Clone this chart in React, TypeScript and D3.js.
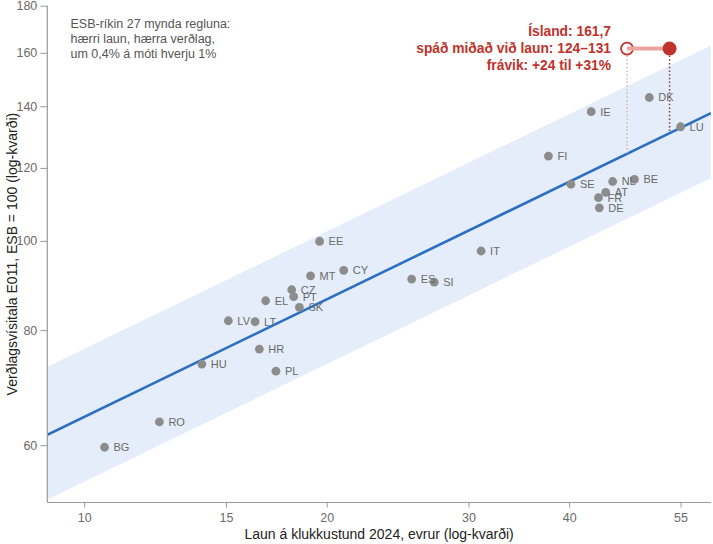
import React, { useEffect, useRef } from "react";
import * as d3 from "d3";

// EU-27: hourly wages 2024 (EUR) and price level index E011 (EU = 100)
const countries = [
  "BG", "RO", "HU", "PL", "HR", "LV", "LT", "EL", "CZ", "PT", "SK", "MT",
  "EE", "CY", "ES", "SI", "IT", "FI", "SE", "IE", "FR", "DE", "AT", "NL",
  "BE", "DK", "LU",
];
const wages = [
  10.6, 12.4, 14.0, 17.3, 16.5, 15.1, 16.3, 16.8, 18.1, 18.2, 18.5, 19.1,
  19.6, 21.0, 25.5, 27.2, 31.1, 37.7, 40.2, 42.6, 43.5, 43.6, 44.4, 45.3,
  48.2, 50.3, 55.0,
];
const prices = [
  59.7, 63.6, 73.5, 72.2, 76.3, 81.9, 81.7, 86.1, 88.5, 87.0, 84.7, 91.6,
  99.9, 92.9, 90.9, 90.2, 97.5, 123.6, 115.2, 138.1, 111.4, 108.6, 112.9,
  116.0, 116.6, 143.1, 133.0,
];

// regression line and band, read at the edges of the plot
const fitWages = [9, 60];
const fitPrices = [61.6, 137.6];
const bandUpper = [73.0, 163.0];
const bandLower = [52.4, 117.0];

// Iceland
const icelandPrice = 161.7;
const icelandWages = [47.2, 53.3];
const icelandPredicted = [124, 131];
const icelandLines = [
  "Ísland: 161,7",
  "spáð miðað við laun: 124–131",
  "frávik: +24 til +31%",
];

const noteLines = [
  "ESB-ríkin 27 mynda regluna:",
  "hærri laun, hærra verðlag,",
  "um 0,4% á móti hverju 1%",
];

const xTicks = [10, 15, 20, 30, 40, 55];
const yTicks = [60, 80, 100, 120, 140, 160, 180];

const FONT = "'Liberation Sans', Arial, Helvetica, sans-serif";
const RED = "#c0322b";

const App: React.FC = () => {
  const svgRef = useRef<SVGSVGElement | null>(null);

  useEffect(() => {
    if (!svgRef.current) return;
    const svg = d3.select(svgRef.current);
    svg.selectAll("*").remove();

    const width = 713;
    const height = 544;
    const left = 47.3;
    const right = 711;
    const top = 5.7;
    const bottom = 502.5;

    const x = d3.scaleLog().domain([9, 60]).range([left, right]);
    const y = d3.scaleLog().domain([52, 180]).range([bottom, top]);

    svg
      .attr("width", width)
      .attr("height", height)
      .style("font-family", FONT);

    // clip band to plot area (the lower edge goes below the axis)
    svg
      .append("clipPath")
      .attr("id", "plotclip")
      .append("rect")
      .attr("x", left)
      .attr("y", top)
      .attr("width", right - left)
      .attr("height", bottom - top);

    const plot = svg.append("g").attr("clip-path", "url(#plotclip)");

    // band
    const bandPts = fitWages.map((w, i) => ({ w, lo: bandLower[i], hi: bandUpper[i] }));
    const area = d3
      .area<{ w: number; lo: number; hi: number }>()
      .x((d) => x(d.w))
      .y0((d) => y(d.lo))
      .y1((d) => y(d.hi));
    plot
      .append("path")
      .datum(bandPts)
      .attr("d", area)
      .attr("fill", "#e4edf9");

    // regression line
    const line = d3
      .line<number>()
      .x((w) => x(w))
      .y((_, i) => y(fitPrices[i]));
    plot
      .append("path")
      .datum(fitWages)
      .attr("d", line)
      .attr("fill", "none")
      .attr("stroke", "#2a6fc4")
      .attr("stroke-width", 2.6);

    // axes
    const axisColor = "#9a9a9a";
    const tickColor = "#6a6a6a";

    const xAxis = svg
      .append("g")
      .attr("transform", `translate(0,${bottom})`)
      .call(
        d3
          .axisBottom(x)
          .tickValues(xTicks)
          .tickFormat((d) => String(d))
          .tickSizeInner(5)
          .tickSizeOuter(0)
          .tickPadding(6)
      );
    const yAxis = svg
      .append("g")
      .attr("transform", `translate(${left},0)`)
      .call(
        d3
          .axisLeft(y)
          .tickValues(yTicks)
          .tickFormat((d) => String(d))
          .tickSizeInner(7)
          .tickSizeOuter(0)
          .tickPadding(3)
      );
    [xAxis, yAxis].forEach((g) => {
      g.select(".domain").attr("stroke", axisColor).attr("stroke-width", 1.2);
      g.selectAll(".tick line").attr("stroke", axisColor);
      g.selectAll(".tick text")
        .attr("fill", tickColor)
        .style("font-size", "12.5px")
        .style("font-family", FONT);
    });
    xAxis.select(".domain").attr("d", `M${left},0H${right}`);
    yAxis.select(".domain").attr("d", `M0,${bottom}V${top}`);

    // axis titles
    svg
      .append("text")
      .attr("x", (left + right) / 2)
      .attr("y", 539)
      .attr("text-anchor", "middle")
      .attr("fill", "#222")
      .style("font-size", "14px")
      .text("Laun á klukkustund 2024, evrur (log-kvarði)");
    svg
      .append("text")
      .attr("transform", `translate(17,${(top + bottom) / 2}) rotate(-90)`)
      .attr("text-anchor", "middle")
      .attr("fill", "#222")
      .style("font-size", "14px")
      .text("Verðlagsvísitala E011, ESB = 100 (log-kvarði)");

    // countries
    const pts = countries.map((c, i) => ({ c, w: wages[i], p: prices[i] }));
    const dots = svg.append("g");
    dots
      .selectAll("circle")
      .data(pts)
      .join("circle")
      .attr("cx", (d) => x(d.w))
      .attr("cy", (d) => y(d.p))
      .attr("r", 4.4)
      .attr("fill", "#8c8c8c");
    dots
      .selectAll("text")
      .data(pts)
      .join("text")
      .attr("x", (d) => x(d.w) + 9)
      .attr("y", (d) => y(d.p) + 4)
      .attr("fill", "#6a6a6a")
      .style("font-size", "11px")
      .text((d) => d.c);

    // Iceland: dotted drops to the fitted line
    const ice = svg.append("g");
    ice
      .append("line")
      .attr("x1", x(icelandWages[0]))
      .attr("x2", x(icelandWages[0]))
      .attr("y1", y(icelandPrice) + 7)
      .attr("y2", y(icelandPredicted[0]))
      .attr("stroke", "#d6b4b4")
      .attr("stroke-width", 1.5)
      .attr("stroke-dasharray", "1.5,2.2");
    ice
      .append("line")
      .attr("x1", x(icelandWages[1]))
      .attr("x2", x(icelandWages[1]))
      .attr("y1", y(icelandPrice) + 7)
      .attr("y2", y(icelandPredicted[1]))
      .attr("stroke", "#8e3a36")
      .attr("stroke-width", 1.5)
      .attr("stroke-dasharray", "1.5,2.2");

    ice
      .append("circle")
      .attr("cx", x(icelandWages[0]))
      .attr("cy", y(icelandPrice))
      .attr("r", 6)
      .attr("fill", "#fff")
      .attr("stroke", RED)
      .attr("stroke-width", 1.8);
    ice
      .append("line")
      .attr("x1", x(icelandWages[0]))
      .attr("x2", x(icelandWages[1]))
      .attr("y1", y(icelandPrice))
      .attr("y2", y(icelandPrice))
      .attr("stroke", "#eba3a0")
      .attr("stroke-width", 4);
    ice
      .append("circle")
      .attr("cx", x(icelandWages[1]))
      .attr("cy", y(icelandPrice))
      .attr("r", 7)
      .attr("fill", RED);

    ice
      .append("text")
      .attr("x", 611)
      .attr("y", 36)
      .attr("text-anchor", "end")
      .attr("fill", RED)
      .style("font-size", "13.8px")
      .style("font-weight", "bold")
      .selectAll("tspan")
      .data(icelandLines)
      .join("tspan")
      .attr("x", 611)
      .attr("dy", (_, i) => (i === 0 ? 0 : 17.2))
      .text((d) => d);

    // note
    svg
      .append("text")
      .attr("x", 70.5)
      .attr("y", 28)
      .attr("fill", "#555")
      .style("font-size", "12.5px")
      .selectAll("tspan")
      .data(noteLines)
      .join("tspan")
      .attr("x", 70.5)
      .attr("dy", (_, i) => (i === 0 ? 0 : 15))
      .text((d) => d);
  }, []);

  return (
    <svg
      ref={svgRef}
      style={{ position: "absolute", left: 0, top: 0, display: "block" }}
    />
  );
};

export default App;
